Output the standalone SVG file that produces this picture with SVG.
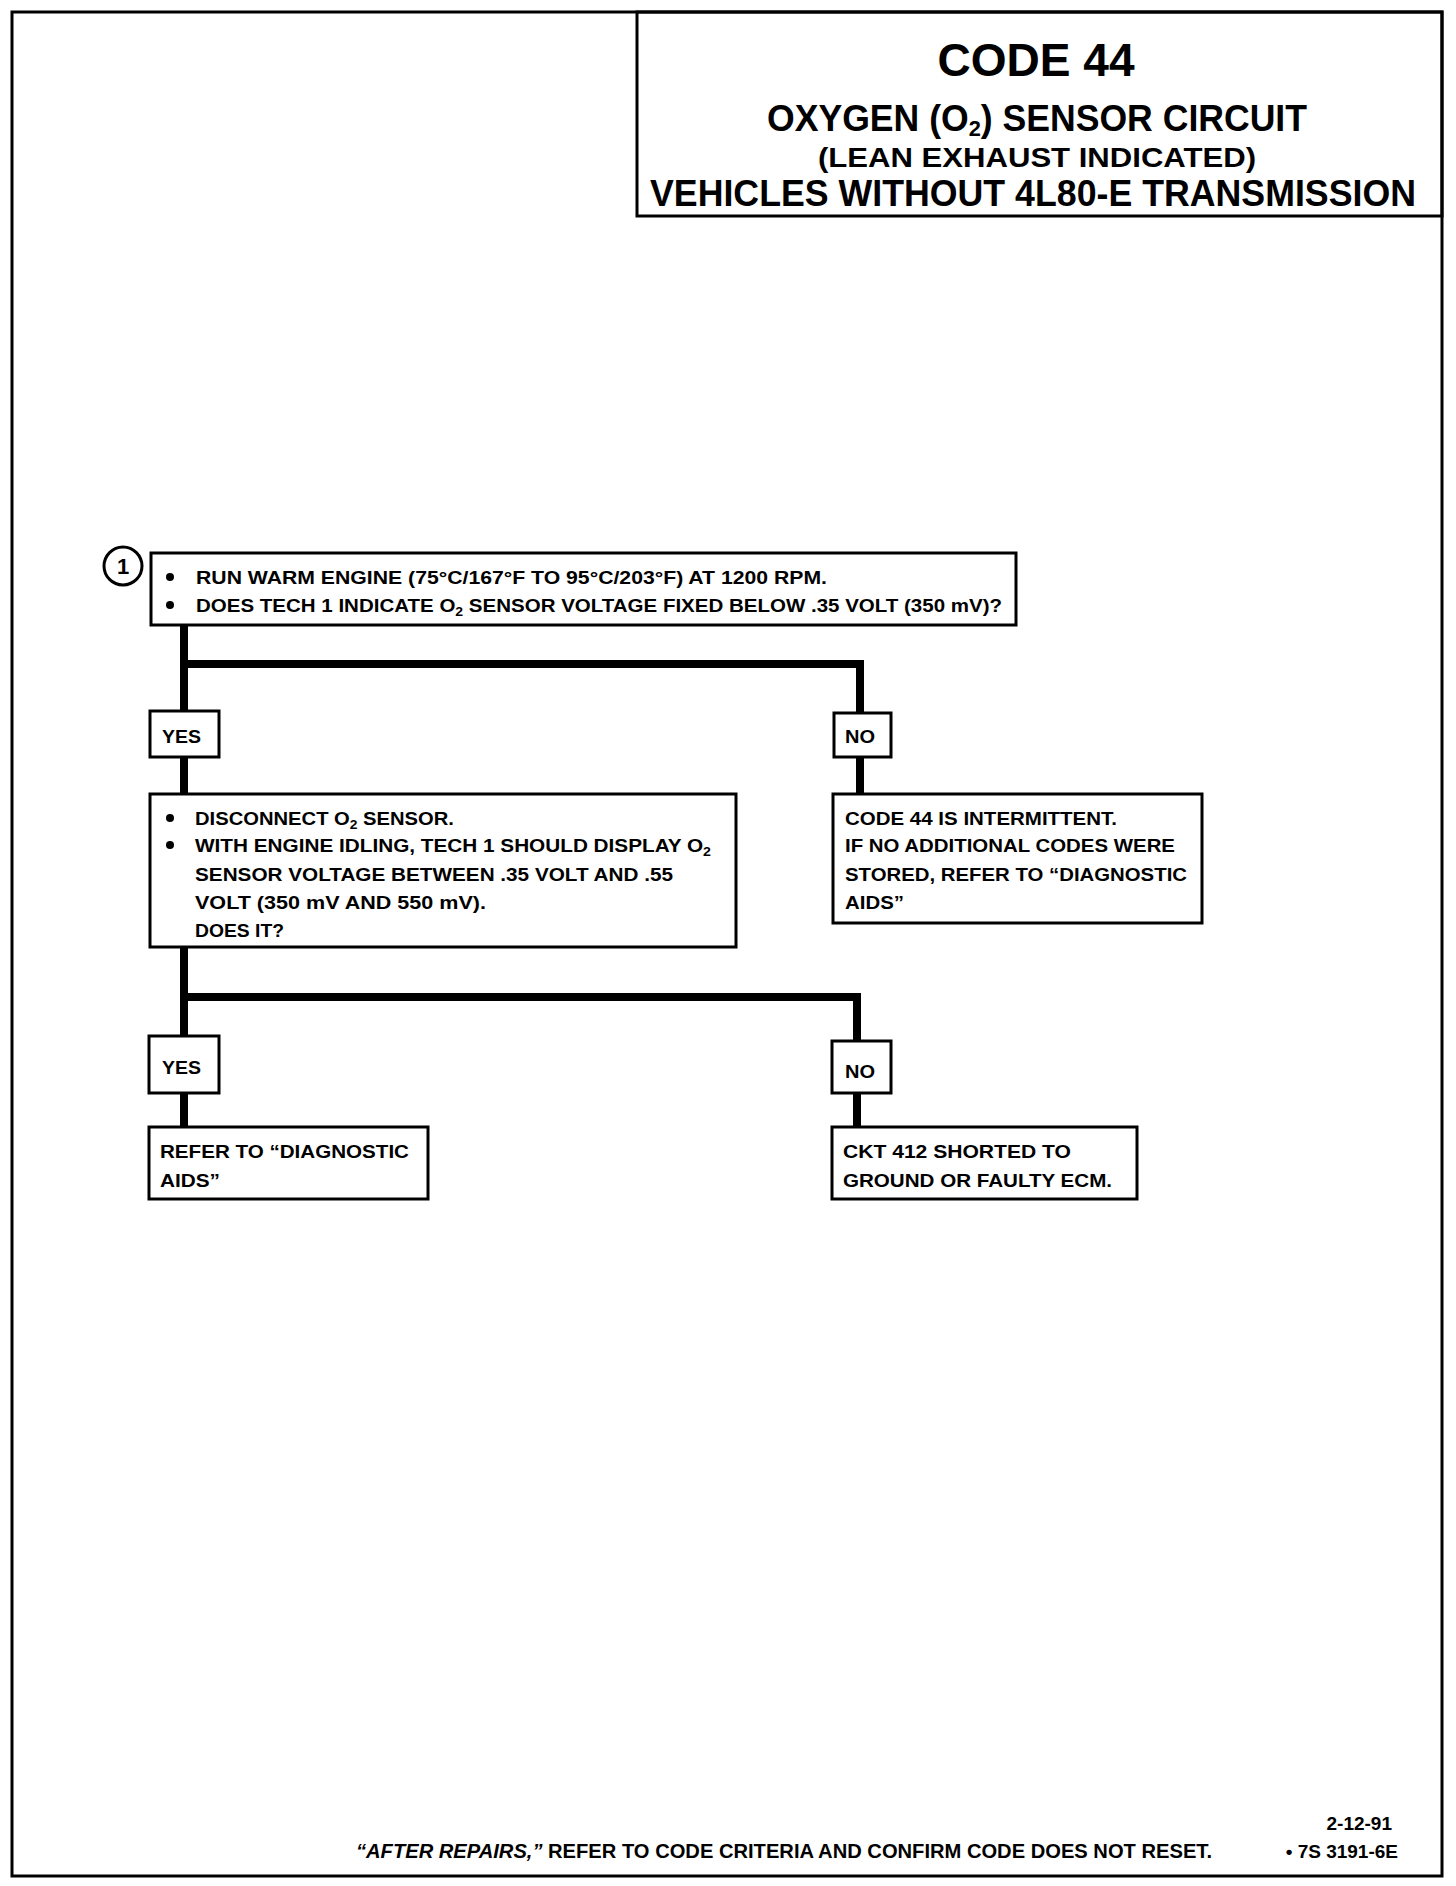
<svg xmlns="http://www.w3.org/2000/svg" width="1456" height="1886" viewBox="0 0 1456 1886">
<style>
.bx{fill:#fff;stroke:#000;stroke-width:3}
.t{font-family:"Liberation Sans",Arial,sans-serif;font-weight:bold;fill:#000}
.s{font-size:19px}
.h{font-family:"Liberation Sans",Arial,sans-serif;font-weight:bold;fill:#000;text-anchor:middle}
.c{fill:none;stroke:#000;stroke-width:8;stroke-linejoin:miter}
</style>
<rect x="0" y="0" width="1456" height="1886" fill="#fff"/>
<rect id="page" x="12" y="12" width="1430" height="1864" fill="none" stroke="#000" stroke-width="3"/>
<g id="title">
<rect x="637" y="12" width="805" height="204" fill="none" stroke="#000" stroke-width="3"/>
<text class="h" x="1036" y="76" font-size="46" textLength="197" lengthAdjust="spacingAndGlyphs">CODE 44</text>
<text class="h" x="1037" y="131" font-size="36" textLength="540" lengthAdjust="spacingAndGlyphs">OXYGEN (O<tspan font-size="22" dy="5">2</tspan><tspan dy="-5">) SENSOR CIRCUIT</tspan></text>
<text class="h" x="1037" y="167" font-size="28" textLength="438" lengthAdjust="spacingAndGlyphs">(LEAN EXHAUST INDICATED)</text>
<text class="h" x="1033" y="206" font-size="37" textLength="766" lengthAdjust="spacingAndGlyphs">VEHICLES WITHOUT 4L80-E TRANSMISSION</text>
</g>
<g id="connectors">
<polyline class="c" points="184,625 184,664 860,664 860,713"/>
<line class="c" x1="184" y1="660" x2="184" y2="711"/>
<line class="c" x1="184" y1="757" x2="184" y2="794"/>
<line class="c" x1="860" y1="757" x2="860" y2="794"/>
<polyline class="c" points="184,947 184,997 857,997 857,1041"/>
<line class="c" x1="184" y1="993" x2="184" y2="1036"/>
<line class="c" x1="184" y1="1093" x2="184" y2="1127"/>
<line class="c" x1="857" y1="1093" x2="857" y2="1127"/>
</g>
<g id="step1">
<circle cx="123" cy="566" r="19" fill="#fff" stroke="#000" stroke-width="3"/>
<text class="t" x="123" y="574" font-size="22" text-anchor="middle">1</text>
<rect class="bx" x="151" y="553" width="865" height="72"/>
<circle cx="170" cy="577" r="4"/>
<circle cx="170" cy="605" r="4"/>
<text class="t s" x="196" y="584" textLength="631" lengthAdjust="spacingAndGlyphs">RUN WARM ENGINE  (75°C/167°F TO 95°C/203°F)  AT 1200 RPM.</text>
<text class="t s" x="196" y="612" textLength="806" lengthAdjust="spacingAndGlyphs">DOES TECH 1 INDICATE O<tspan font-size="13" dy="4">2</tspan><tspan dy="-4"> SENSOR VOLTAGE FIXED BELOW .35 VOLT (350 mV)?</tspan></text>
</g>
<g id="yes1">
<rect class="bx" x="150" y="711" width="69" height="46"/>
<text class="t s" x="162" y="743" textLength="39" lengthAdjust="spacingAndGlyphs">YES</text>
</g>
<g id="no1">
<rect class="bx" x="834" y="713" width="57" height="44"/>
<text class="t s" x="845" y="743" textLength="30" lengthAdjust="spacingAndGlyphs">NO</text>
</g>
<g id="step2">
<rect class="bx" x="150" y="794" width="586" height="153"/>
<circle cx="170" cy="818" r="4"/>
<circle cx="170" cy="845" r="4"/>
<text class="t s" x="195" y="825" textLength="259" lengthAdjust="spacingAndGlyphs">DISCONNECT O<tspan font-size="13" dy="4">2</tspan><tspan dy="-4"> SENSOR.</tspan></text>
<text class="t s" x="195" y="852" textLength="516" lengthAdjust="spacingAndGlyphs">WITH ENGINE IDLING, TECH 1 SHOULD DISPLAY O<tspan font-size="13" dy="4">2</tspan></text>
<text class="t s" x="195" y="881" textLength="478" lengthAdjust="spacingAndGlyphs">SENSOR VOLTAGE BETWEEN .35 VOLT AND .55</text>
<text class="t s" x="195" y="909" textLength="291" lengthAdjust="spacingAndGlyphs">VOLT (350 mV AND 550 mV).</text>
<text class="t s" x="195" y="937" textLength="89" lengthAdjust="spacingAndGlyphs">DOES IT?</text>
</g>
<g id="intermittent">
<rect class="bx" x="833" y="794" width="369" height="129"/>
<text class="t s" x="845" y="825" textLength="272" lengthAdjust="spacingAndGlyphs">CODE 44 IS INTERMITTENT.</text>
<text class="t s" x="845" y="852" textLength="330" lengthAdjust="spacingAndGlyphs">IF NO ADDITIONAL CODES WERE</text>
<text class="t s" x="845" y="881" textLength="342" lengthAdjust="spacingAndGlyphs">STORED, REFER TO  “DIAGNOSTIC</text>
<text class="t s" x="845" y="909" textLength="59" lengthAdjust="spacingAndGlyphs">AIDS”</text>
</g>
<g id="yes2">
<rect class="bx" x="149" y="1036" width="70" height="57"/>
<text class="t s" x="162" y="1074" textLength="39" lengthAdjust="spacingAndGlyphs">YES</text>
</g>
<g id="no2">
<rect class="bx" x="832" y="1041" width="59" height="52"/>
<text class="t s" x="845" y="1078" textLength="30" lengthAdjust="spacingAndGlyphs">NO</text>
</g>
<g id="diagaids">
<rect class="bx" x="149" y="1127" width="279" height="72"/>
<text class="t s" x="160" y="1158" textLength="249" lengthAdjust="spacingAndGlyphs">REFER TO  “DIAGNOSTIC</text>
<text class="t s" x="160" y="1187" textLength="60" lengthAdjust="spacingAndGlyphs">AIDS”</text>
</g>
<g id="ckt412">
<rect class="bx" x="832" y="1127" width="305" height="72"/>
<text class="t s" x="843" y="1158" textLength="228" lengthAdjust="spacingAndGlyphs">CKT 412  SHORTED TO</text>
<text class="t s" x="843" y="1187" textLength="269" lengthAdjust="spacingAndGlyphs">GROUND OR FAULTY ECM.</text>
</g>
<g id="footer">
<text class="t" x="356" y="1858" font-size="20" textLength="856" lengthAdjust="spacingAndGlyphs"><tspan font-style="italic">“AFTER REPAIRS,”</tspan> REFER TO CODE CRITERIA AND CONFIRM CODE DOES NOT RESET.</text>
<text class="t" x="1392" y="1830" font-size="19" text-anchor="end">2-12-91</text>
<text class="t" x="1398" y="1858" font-size="19" text-anchor="end">• 7S 3191-6E</text>
</g>
</svg>
